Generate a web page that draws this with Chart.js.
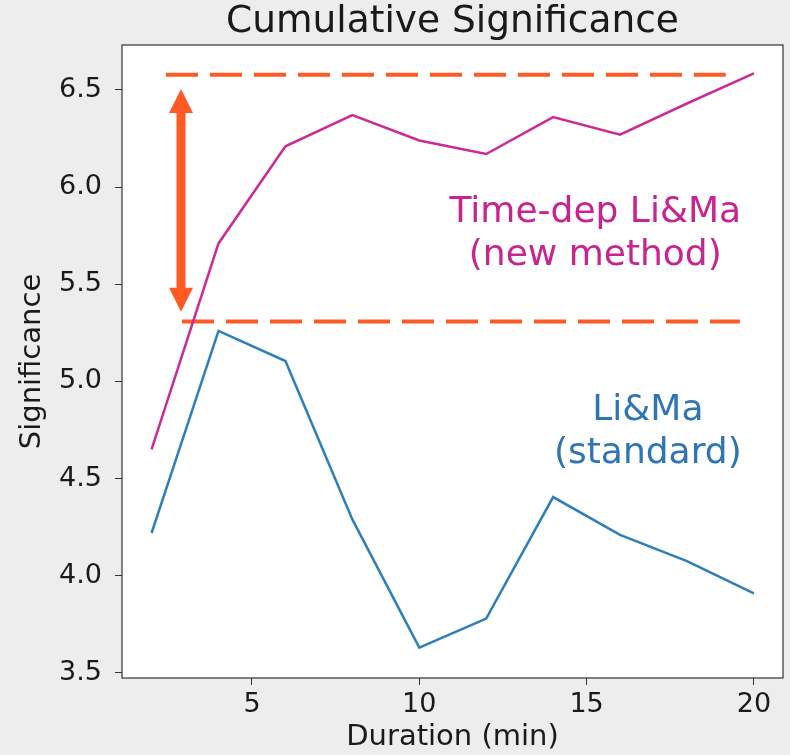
<!DOCTYPE html>
<html>
<head>
<meta charset="utf-8">
<script src="https://cdn.jsdelivr.net/npm/chart.js@4/dist/chart.umd.min.js"></script>
<style>
  html, body { margin: 0; padding: 0; background: #ededed; }
  #wrap { width: 790px; height: 755px; }
</style>
</head>
<body>
<div id="wrap"><canvas id="sig-graph" width="790" height="755"></canvas></div>
<script>
const durations = [2, 4, 6, 8, 10, 12, 14, 16, 18, 20];
const timeDepLiMa = [4.65, 5.71, 6.21, 6.37, 6.24, 6.17, 6.36, 6.27, 6.43, 6.585];
const standardLiMa = [4.22, 5.26, 5.105, 4.29, 3.63, 3.78, 4.405, 4.21, 4.075, 3.91];
const xTicks = [5, 10, 15, 20];
const yTicks = [3.5, 4.0, 4.5, 5.0, 5.5, 6.0, 6.5];

// dashed reference levels and the arrow between them
const upperLevel = {y: 6.578, from: 2.43, to: 19.16};
const lowerLevel = {y: 5.308, from: 2.91, to: 19.58};
const gainArrow = {x: 2.88, top: 6.505, bottom: 5.358};

const notes = [
    {lines: ["Time-dep Li&Ma", "(new method)"], x: 15.26, y: 5.821, color: '#c8238f'},
    {lines: ["Li&Ma", "(standard)"], x: 16.83, y: 4.802, color: '#2e75b6'}
];

const ORANGE = '#ff5a23';

const frame = {
    id: 'frame',
    beforeDraw(chart) {
        const {ctx, chartArea: a} = chart;
        ctx.save();
        ctx.fillStyle = '#ffffff';
        ctx.fillRect(a.left, a.top, a.right - a.left, a.bottom - a.top);
        ctx.restore();
    },
    afterDraw(chart) {
        const {ctx, chartArea: a, scales} = chart;
        const x = scales.x, y = scales.y;
        ctx.save();
        // arrow
        const ax = x.getPixelForValue(gainArrow.x);
        const t = y.getPixelForValue(gainArrow.top);
        const b = y.getPixelForValue(gainArrow.bottom);
        const head = 24, half = 12;
        ctx.strokeStyle = ORANGE;
        ctx.fillStyle = ORANGE;
        ctx.lineWidth = 9;
        ctx.beginPath();
        ctx.moveTo(ax, t + head - 2);
        ctx.lineTo(ax, b - head + 2);
        ctx.stroke();
        ctx.beginPath();
        ctx.moveTo(ax, t);
        ctx.lineTo(ax - half, t + head);
        ctx.lineTo(ax + half, t + head);
        ctx.closePath();
        ctx.fill();
        ctx.beginPath();
        ctx.moveTo(ax, b);
        ctx.lineTo(ax - half, b - head);
        ctx.lineTo(ax + half, b - head);
        ctx.closePath();
        ctx.fill();
        // notes
        ctx.font = '36px "DejaVu Sans"';
        ctx.textAlign = 'center';
        ctx.textBaseline = 'alphabetic';
        notes.forEach(n => {
            ctx.fillStyle = n.color;
            const px = x.getPixelForValue(n.x);
            const py = y.getPixelForValue(n.y);
            n.lines.forEach((line, i) => ctx.fillText(line, px, py + i * 43));
        });
        // box
        ctx.strokeStyle = '#333333';
        ctx.lineWidth = 1.2;
        ctx.strokeRect(a.left, a.top, a.right - a.left, a.bottom - a.top);
        ctx.restore();
    }
};

const dashed = {borderColor: ORANGE, borderWidth: 4, borderDash: [32, 12], pointRadius: 0, fill: false};

new Chart(document.getElementById('sig-graph'), {
    type: 'line',
    data: {
        datasets: [
            {
                label: 'Time-dep Li&Ma',
                data: durations.map((d, i) => ({x: d, y: timeDepLiMa[i]})),
                borderColor: '#cc2a94',
                borderWidth: 2.5,
                pointRadius: 0,
                tension: 0
            },
            {
                label: 'Li&Ma',
                data: durations.map((d, i) => ({x: d, y: standardLiMa[i]})),
                borderColor: '#2f7ebc',
                borderWidth: 2.5,
                pointRadius: 0,
                tension: 0
            },
            Object.assign({label: 'upper', data: [{x: upperLevel.from, y: upperLevel.y}, {x: upperLevel.to, y: upperLevel.y}]}, dashed),
            Object.assign({label: 'lower', data: [{x: lowerLevel.from, y: lowerLevel.y}, {x: lowerLevel.to, y: lowerLevel.y}]}, dashed)
        ]
    },
    options: {
        responsive: false,
        animation: false,
        layout: {padding: {left: 0, right: 7, top: 0, bottom: 0}},
        plugins: {
            legend: {display: false},
            tooltip: {enabled: false},
            title: {
                display: true,
                text: 'Cumulative Significance',
                fullSize: false,
                color: '#1a1a1a',
                font: {family: 'DejaVu Sans', size: 37.5, weight: 'normal', lineHeight: 1.2},
                padding: {top: 0, bottom: 0}
            }
        },
        scales: {
            x: {
                type: 'linear',
                min: 1.116,
                max: 20.87,
                afterBuildTicks: s => { s.ticks = xTicks.map(v => ({value: v})); },
                afterFit: s => { s.height = 77; },
                grid: {drawOnChartArea: false, drawTicks: true, tickLength: 7, tickColor: '#333', color: '#333'},
                border: {display: false},
                ticks: {color: '#1a1a1a', padding: 4, font: {family: 'DejaVu Sans', size: 27}},
                title: {display: true, text: 'Duration (min)', color: '#1a1a1a', padding: 0,
                    font: {family: 'DejaVu Sans', size: 29}}
            },
            y: {
                type: 'linear',
                min: 3.474,
                max: 6.731,
                afterBuildTicks: s => { s.ticks = yTicks.map(v => ({value: v})); },
                afterFit: s => { s.width = 122; },
                grid: {drawOnChartArea: false, drawTicks: true, tickLength: 7, tickColor: '#333', color: '#333'},
                border: {display: false},
                ticks: {color: '#1a1a1a', padding: 13, font: {family: 'DejaVu Sans', size: 27},
                    callback: v => v.toFixed(1)},
                title: {display: true, text: 'Significance', color: '#1a1a1a', padding: {top: 15, bottom: 0},
                    font: {family: 'DejaVu Sans', size: 29}}
            }
        }
    },
    plugins: [frame]
});
</script>
</body>
</html>
